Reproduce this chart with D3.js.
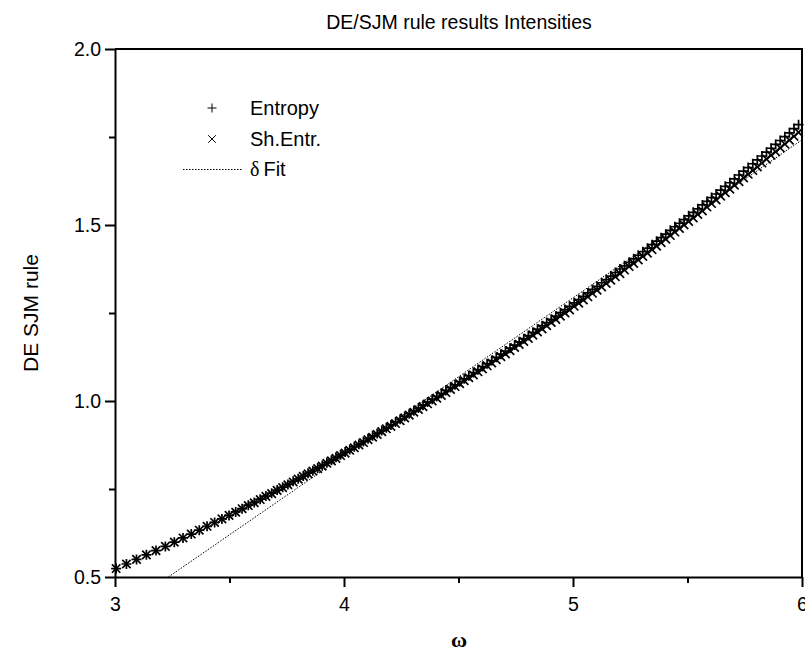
<!DOCTYPE html>
<html>
<head>
<meta charset="utf-8">
<script src="https://cdn.jsdelivr.net/npm/d3@7"></script>
<style>
  html, body { margin: 0; padding: 0; background: #fff; }
  svg { display: block; }
</style>
</head>
<body>
<svg id="chart" width="805" height="656"></svg>
<script>
// ---- data ----
const omega = [
  3.005, 3.050, 3.094, 3.137, 3.179, 3.220, 3.259, 3.297, 3.333, 3.368, 3.402, 3.435, 3.467, 3.498,
  3.527, 3.555, 3.582, 3.608, 3.634, 3.659, 3.684, 3.708, 3.732, 3.755, 3.778, 3.800, 3.822, 3.843,
  3.864, 3.885, 3.905, 3.925, 3.945, 3.965, 3.985,
  4.005, 4.025, 4.045, 4.065, 4.085, 4.105, 4.125, 4.145, 4.165, 4.185,
  4.205, 4.225, 4.245, 4.265, 4.285, 4.305, 4.325, 4.345, 4.365, 4.385,
  4.405, 4.425, 4.445, 4.465, 4.485, 4.505, 4.525, 4.545, 4.565, 4.585,
  4.605, 4.625, 4.645, 4.665, 4.685, 4.705, 4.725, 4.745, 4.765, 4.785,
  4.805, 4.825, 4.845, 4.865, 4.885, 4.905, 4.925, 4.945, 4.965, 4.985,
  5.005, 5.025, 5.045, 5.065, 5.085, 5.105, 5.125, 5.145, 5.165, 5.185,
  5.205, 5.225, 5.245, 5.265, 5.285, 5.305, 5.325, 5.345, 5.365, 5.385,
  5.405, 5.425, 5.445, 5.465, 5.485, 5.505, 5.525, 5.545, 5.565, 5.585,
  5.605, 5.625, 5.645, 5.665, 5.685, 5.705, 5.725, 5.745, 5.765, 5.785,
  5.805, 5.825, 5.845, 5.865, 5.885, 5.905, 5.925, 5.945, 5.965, 5.985
];
const entropy = [
  0.524, 0.537, 0.550, 0.563, 0.575, 0.587, 0.599, 0.611, 0.622, 0.633, 0.644, 0.655, 0.665, 0.675,
  0.685, 0.694, 0.704, 0.712, 0.721, 0.730, 0.738, 0.747, 0.755, 0.763, 0.772, 0.779, 0.787, 0.795,
  0.802, 0.810, 0.817, 0.825, 0.832, 0.840, 0.847,
  0.855, 0.862, 0.870, 0.877, 0.885, 0.893, 0.901, 0.908, 0.916, 0.924,
  0.932, 0.940, 0.948, 0.956, 0.964, 0.972, 0.980, 0.988, 0.997, 1.005,
  1.013, 1.021, 1.030, 1.038, 1.046, 1.055, 1.063, 1.072, 1.081, 1.089,
  1.098, 1.106, 1.115, 1.124, 1.133, 1.142, 1.150, 1.159, 1.168, 1.177,
  1.186, 1.195, 1.204, 1.214, 1.223, 1.232, 1.241, 1.251, 1.260, 1.269,
  1.279, 1.288, 1.297, 1.307, 1.317, 1.326, 1.336, 1.345, 1.355, 1.365,
  1.375, 1.384, 1.394, 1.404, 1.414, 1.424, 1.434, 1.444, 1.454, 1.464,
  1.474, 1.485, 1.495, 1.505, 1.515, 1.526, 1.536, 1.546, 1.557, 1.567,
  1.578, 1.588, 1.599, 1.610, 1.620, 1.631, 1.642, 1.653, 1.663, 1.674,
  1.685, 1.696, 1.707, 1.718, 1.729, 1.740, 1.751, 1.762, 1.774, 1.785
];
const shEntr = [
  0.524, 0.537, 0.550, 0.563, 0.575, 0.587, 0.599, 0.611, 0.622, 0.633, 0.644, 0.655, 0.665, 0.675,
  0.684, 0.694, 0.703, 0.711, 0.720, 0.729, 0.737, 0.746, 0.754, 0.762, 0.770, 0.778, 0.786, 0.793,
  0.801, 0.808, 0.815, 0.823, 0.830, 0.837, 0.845,
  0.852, 0.860, 0.867, 0.875, 0.882, 0.890, 0.897, 0.905, 0.913, 0.921,
  0.928, 0.936, 0.944, 0.952, 0.960, 0.968, 0.976, 0.984, 0.992, 1.000,
  1.008, 1.016, 1.024, 1.033, 1.041, 1.049, 1.058, 1.066, 1.074, 1.083,
  1.091, 1.100, 1.108, 1.117, 1.126, 1.134, 1.143, 1.152, 1.161, 1.169,
  1.178, 1.187, 1.196, 1.205, 1.214, 1.223, 1.232, 1.241, 1.250, 1.259,
  1.269, 1.278, 1.287, 1.296, 1.306, 1.315, 1.324, 1.334, 1.343, 1.353,
  1.362, 1.372, 1.382, 1.391, 1.401, 1.411, 1.420, 1.430, 1.440, 1.450,
  1.460, 1.470, 1.480, 1.490, 1.500, 1.510, 1.520, 1.530, 1.540, 1.551,
  1.561, 1.571, 1.582, 1.592, 1.602, 1.613, 1.623, 1.634, 1.644, 1.655,
  1.665, 1.676, 1.687, 1.698, 1.708, 1.719, 1.730, 1.741, 1.752, 1.763
];
const fitX = [3.233, 6.0];
const fitY = [0.5, 1.742];

const xMajor = [3, 4, 5, 6];
const xMinor = [3.5, 4.5, 5.5];
const yMajor = [0.5, 1.0, 1.5, 2.0];
const yMinor = [0.75, 1.25, 1.75];

const titleText = "DE/SJM rule results Intensities";
const xLabel = "ω";
const yLabel = "DE SJM rule";
const legendNames = ["Entropy", "Sh.Entr.", "Fit"];

// ---- drawing ----
(function () {
const svg = d3.select("#chart");
const pLeft = 115, pRight = 802, pTop = 49, pBottom = 577;
const x = d3.scaleLinear().domain([3, 6]).range([pLeft, pRight]);
const y = d3.scaleLinear().domain([0.5, 2.0]).range([pBottom, pTop]);
const sans = "Arial, 'Liberation Sans', Helvetica, sans-serif";
const serif = "'Times New Roman', 'Liberation Serif', 'DejaVu Serif', serif";
const axisW = 2;

svg.append("line").attr("x1", pLeft).attr("x2", pRight + 1).attr("y1", pTop).attr("y2", pTop)
  .attr("stroke", "#000").attr("stroke-width", axisW);
svg.append("line").attr("x1", pRight).attr("x2", pRight).attr("y1", pTop).attr("y2", pBottom)
  .attr("stroke", "#000").attr("stroke-width", axisW);

function styleAxis(g) {
  g.selectAll("path.domain").attr("stroke", "#000").attr("stroke-width", axisW);
  g.selectAll(".tick line").attr("stroke", "#000").attr("stroke-width", axisW);
  g.selectAll(".tick text").attr("fill", "#000").style("font-family", sans).style("font-size", "19.5px");
}
const gx = svg.append("g").attr("transform", `translate(0,${pBottom})`)
  .call(d3.axisBottom(x).tickValues(xMajor).tickSize(10).tickSizeOuter(0).tickPadding(10).tickFormat(d3.format("d")));
styleAxis(gx);
const gxm = svg.append("g").attr("transform", `translate(0,${pBottom})`)
  .call(d3.axisBottom(x).tickValues(xMinor).tickSize(6).tickSizeOuter(0).tickFormat(""));
styleAxis(gxm); gxm.select("path.domain").remove();

const gy = svg.append("g").attr("transform", `translate(${pLeft},0)`)
  .call(d3.axisLeft(y).tickValues(yMajor).tickSize(10).tickSizeOuter(0).tickPadding(4).tickFormat(d3.format(".1f")));
styleAxis(gy);
const gym = svg.append("g").attr("transform", `translate(${pLeft},0)`)
  .call(d3.axisLeft(y).tickValues(yMinor).tickSize(6).tickSizeOuter(0).tickFormat(""));
styleAxis(gym); gym.select("path.domain").remove();

svg.append("path")
  .datum(fitX.map((v, i) => [v, fitY[i]]))
  .attr("d", d3.line().x(d => x(d[0])).y(d => y(d[1])))
  .attr("fill", "none").attr("stroke", "#000").attr("stroke-width", 1)
  .attr("stroke-dasharray", "1.5,1.5");

const plusPath = "M-5,0H5M0,-5V5";
const crossPath = "M-4.2,-4.2L4.2,4.2M-4.2,4.2L4.2,-4.2";

svg.append("g").selectAll("path").data(omega).join("path")
  .attr("transform", (d, i) => `translate(${x(d)},${y(shEntr[i])})`)
  .attr("d", crossPath).attr("fill", "none").attr("stroke", "#000").attr("stroke-width", 1.7);
svg.append("g").selectAll("path").data(omega).join("path")
  .attr("transform", (d, i) => `translate(${x(d)},${y(entropy[i])})`)
  .attr("d", plusPath).attr("fill", "none").attr("stroke", "#000").attr("stroke-width", 1.7);

svg.append("text").attr("x", 459).attr("y", 29).attr("text-anchor", "middle")
  .style("font-family", sans).style("font-size", "19.5px").text(titleText);
svg.append("text").attr("transform", "translate(38,313) rotate(-90)").attr("text-anchor", "middle")
  .style("font-family", sans).style("font-size", "21px").text(yLabel);
svg.append("text").attr("x", 459).attr("y", 647).attr("text-anchor", "middle")
  .style("font-family", serif).style("font-size", "22px").style("font-weight", "bold").text(xLabel);

const lg = svg.append("g");
lg.append("path").attr("transform", "translate(212,108)").attr("d", "M-4.5,0H4.5M0,-4.5V4.5")
  .attr("fill", "none").attr("stroke", "#000").attr("stroke-width", 1);
lg.append("path").attr("transform", "translate(212,139)").attr("d", "M-3.8,-3.8L3.8,3.8M-3.8,3.8L3.8,-3.8")
  .attr("fill", "none").attr("stroke", "#000").attr("stroke-width", 1);
lg.append("line").attr("x1", 183).attr("x2", 242).attr("y1", 169.5).attr("y2", 169.5)
  .attr("stroke", "#000").attr("stroke-width", 1).attr("stroke-dasharray", "1.5,1.5");
lg.append("text").attr("x", 250).attr("y", 115).style("font-family", sans).style("font-size", "20px").text(legendNames[0]);
lg.append("text").attr("x", 250).attr("y", 146).style("font-family", sans).style("font-size", "20px").text(legendNames[1]);
const t3 = lg.append("text").attr("x", 250).attr("y", 176).style("font-size", "20px");
t3.append("tspan").style("font-family", serif).text("δ");
t3.append("tspan").style("font-family", sans).attr("dx", 4).text(legendNames[2]);
})();
</script>
</body>
</html>
